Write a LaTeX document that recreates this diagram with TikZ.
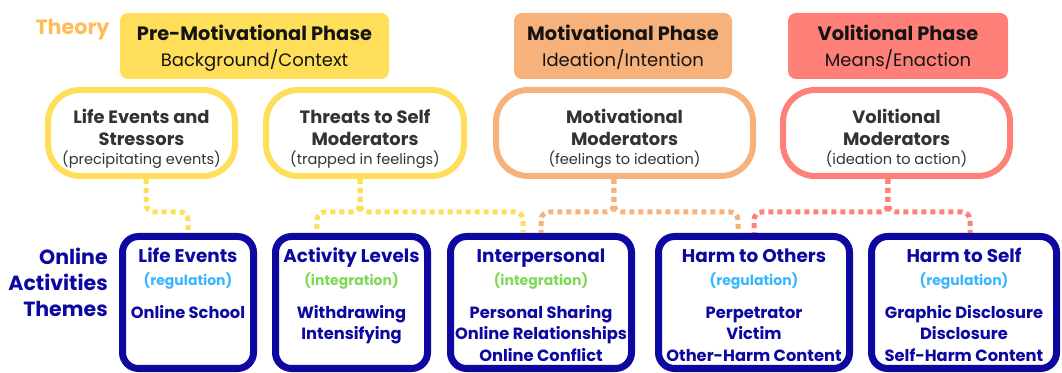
\documentclass[tikz,border=0pt]{standalone}
\usepackage{fontspec}
\setmainfont{Poppins}
\usetikzlibrary{positioning}

\definecolor{phyellow}{RGB}{255,222,89}
\definecolor{phorange}{RGB}{247,178,124}
\definecolor{phred}{RGB}{255,128,120}
\definecolor{themeblue}{RGB}{12,8,160}
\definecolor{regblue}{RGB}{56,182,255}
\definecolor{intgreen}{RGB}{126,217,87}
\definecolor{theorycol}{RGB}{255,189,89}
\definecolor{phtext}{RGB}{20,20,20}
\definecolor{modtext}{RGB}{51,51,51}

% theme box text: title, colour of the note, note, items
\newcommand{\themelines}[4]{\begin{tabular}[t]{@{}c@{}}{\fontsize{13.8}{16}\selectfont #1}\\[1.25pt]{\fontsize{10.5}{16}\selectfont\color{#2}#3}\\[8.75pt]#4\end{tabular}}

\begin{document}
\begin{tikzpicture}[x=0.75pt, y=-0.75pt,
    phase/.style={rectangle, rounded corners=6pt, minimum height=49.5pt, align=center, text=phtext, inner sep=0pt, text depth=0pt, font=\fontsize{13.5}{19.5}\selectfont},
    moder/.style={rectangle, draw, line width=4.5pt, fill=white, rounded corners=24pt, minimum height=64.5pt, align=center, text=modtext, inner sep=0pt, text height=49pt, text depth=1.8pt, font=\fontsize{13.4}{16.5}\selectfont},
    theme/.style={rectangle, draw=themeblue, line width=5.25pt, fill=white, rounded corners=12pt, anchor=north, text=themeblue, inner xsep=0pt, inner ysep=9pt, text height=10.5pt, text depth=70.5pt, font=\fontsize{12.2}{16}\selectfont\bfseries},
    link/.style={line width=3.75pt, dash pattern=on 3.75pt off 3pt, rounded corners=6pt}]
    \useasboundingbox (0,0) rectangle (1062,373);

    % Row labels
    \node [text=theorycol, inner sep=0pt, font=\fontsize{15.5}{18}\selectfont\bfseries] (theory) at (72.5,30) {Theory};
    \node [text=themeblue, align=right, anchor=east, inner sep=0pt, font=\fontsize{15.4}{19.5}\selectfont\bfseries] (online) at (108,282) {Online\\Activities\\Themes};

    % Phases
    \node [phase, fill=phyellow, minimum width=201.75pt] (premot) at (254.5,46) {\fontsize{14.5}{19.5}\selectfont\bfseries Pre-Motivational Phase\\Background/Context};
    \node [phase, fill=phorange, minimum width=163.5pt] (motph) at (623,46) {\fontsize{14.5}{19.5}\selectfont\bfseries Motivational Phase\\Ideation/Intention};
    \node [phase, fill=phred, minimum width=165pt] (volph) at (898,46) {\fontsize{14.5}{19.5}\selectfont\bfseries Volitional Phase\\Means/Enaction};

    % Moderators
    \node [moder, draw=phyellow, minimum width=140.25pt] (lifemod) at (141.5,133) {\bfseries Life Events and\\\bfseries Stressors\\[-2.5pt]\fontsize{10.9}{13}\selectfont (precipitating events)};
    \node [moder, draw=phyellow, minimum width=148.5pt] (threatmod) at (365,133) {\bfseries Threats to Self\\\bfseries Moderators\\[-2.5pt]\fontsize{10.9}{13}\selectfont (trapped in feelings)};
    \node [moder, draw=phorange, minimum width=192.75pt] (motmod) at (624.5,133) {\bfseries Motivational\\\bfseries Moderators\\[-2.5pt]\fontsize{10.9}{13}\selectfont (feelings to ideation)};
    \node [moder, draw=phred, minimum width=170.25pt] (volmod) at (896.5,133) {\bfseries Volitional\\\bfseries Moderators\\[-2.5pt]\fontsize{10.9}{13}\selectfont (ideation to action)};

    % Online activities themes
    \node [theme, minimum width=98.25pt] (lifeev) at (188,233) {\themelines{Life Events}{regblue}{(regulation)}{Online School}};
    \node [theme, minimum width=114pt] (actlev) at (351.5,233) {\themelines{Activity Levels}{intgreen}{(integration)}{Withdrawing\\Intensifying}};
    \node [theme, minimum width=135.75pt] (interp) at (541,233) {\themelines{Interpersonal}{intgreen}{(integration)}{Personal Sharing\\Online Relationships\\Online Conflict}};
    \node [theme, minimum width=143.25pt] (harmoth) at (754,233) {\themelines{Harm to Others}{regblue}{(regulation)}{Perpetrator\\Victim\\Other-Harm Content}};
    \node [theme, minimum width=138.75pt] (harmself) at (964,233) {\themelines{Harm to Self}{regblue}{(regulation)}{Graphic Disclosure\\Disclosure\\Self-Harm Content}};

    % Links
    \coordinate (bus) at (0,212);
    \draw [link, phyellow] ([xshift=3.4pt]lifemod.south) |- (lifeev.north |- bus) -- (lifeev.north);
    \draw [link, phyellow] ([xshift=-3.75pt]threatmod.south) |- ([xshift=-26pt]actlev.north |- bus) -- ([xshift=-26pt]actlev.north);
    \draw [link, phyellow] ([xshift=-3.75pt]threatmod.south) |- ([xshift=-13.5pt]interp.north |- bus) -- ([xshift=-13.5pt]interp.north);

    \draw [link, phorange] ([xshift=-8pt]motmod.south) |- (interp.north |- bus) -- (interp.north);
    \draw [link, phorange] ([xshift=-8pt]motmod.south) |- ([xshift=-12pt]harmoth.north |- bus) -- ([xshift=-12pt]harmoth.north);

    \draw [link, phred] ([xshift=-6.4pt]volmod.south) |- (harmoth.north |- bus) -- (harmoth.north);
    \draw [link, phred] ([xshift=-6.4pt]volmod.south) |- ([xshift=4.5pt]harmself.north |- bus) -- ([xshift=4.5pt]harmself.north);

\end{tikzpicture}
\end{document}
